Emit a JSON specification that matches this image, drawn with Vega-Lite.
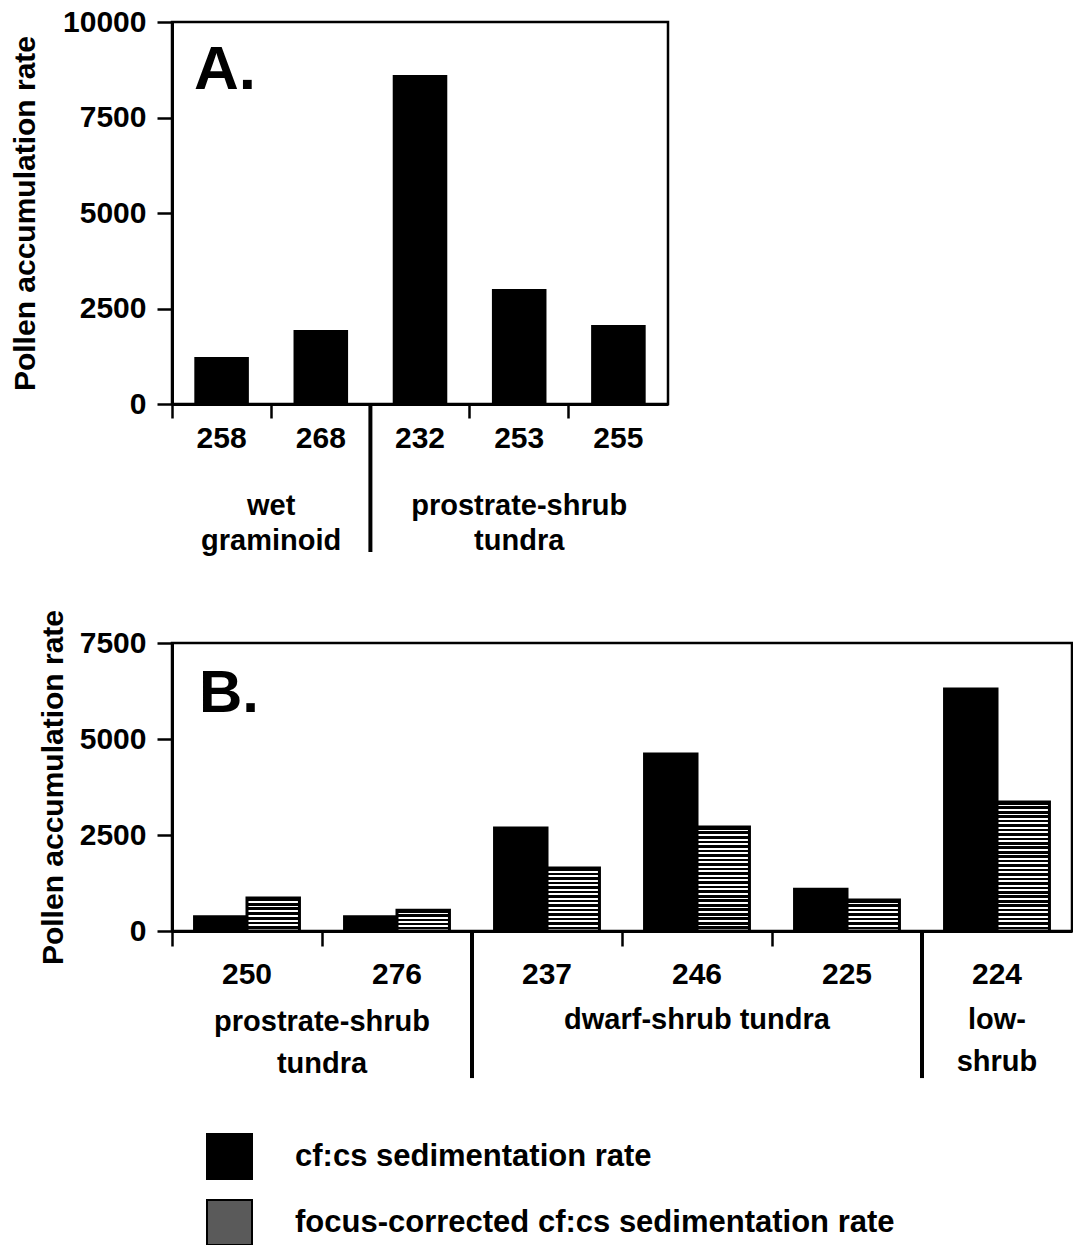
{
  "$schema": "https://vega.github.io/schema/vega-lite/v6.json",
  "background": "white",
  "padding": {"left": 9, "top": 5, "right": 0, "bottom": 0},
  "spacing": 50,
  "config": {
    "font": "Liberation Sans",
    "view": {"stroke": "#000", "strokeWidth": 2.5},
    "axis": {
      "labelFont": "Liberation Sans", "labelFontSize": 30, "labelFontWeight": "bold", "labelColor": "#000",
      "titleFont": "Liberation Sans", "titleFontSize": 30, "titleFontWeight": "bold", "titleColor": "#000",
      "domainColor": "#000", "domainWidth": 3, "tickColor": "#000", "tickWidth": 2.5, "grid": false
    }
  },
  "vconcat": [
    {
      "width": 496,
      "height": 382,
      "data": {"values": [
        {"site": "258", "vegetation": "wet graminoid", "rate": 1230},
        {"site": "268", "vegetation": "wet graminoid", "rate": 1940},
        {"site": "232", "vegetation": "prostrate-shrub tundra", "rate": 8610},
        {"site": "253", "vegetation": "prostrate-shrub tundra", "rate": 3010},
        {"site": "255", "vegetation": "prostrate-shrub tundra", "rate": 2070}
      ]},
      "layer": [
        {
          "mark": {"type": "bar", "color": "#000", "width": {"band": 0.55}},
          "encoding": {
            "x": {"field": "site", "type": "nominal", "sort": null,
              "scale": {"domain": ["258", "268", "232", "253", "255"], "paddingInner": 0, "paddingOuter": 0},
              "axis": {"title": null, "labelAngle": 0, "bandPosition": 0, "tickSize": 14, "labelPadding": 5}},
            "y": {"field": "rate", "type": "quantitative",
              "scale": {"domain": [0, 10000], "nice": false},
              "axis": {"title": "Pollen accumulation rate", "values": [0, 2500, 5000, 7500, 10000],
                "format": "d", "labelOverlap": false, "tickSize": 15,
                "labelPadding": 11, "titlePadding": 22}}
          }
        },
        {
          "data": {"values": [{}]},
          "mark": {"type": "rule", "color": "#000", "strokeWidth": 4},
          "encoding": {
            "x": {"datum": "232", "type": "nominal", "bandPosition": 0},
            "y": {"datum": 0, "type": "quantitative"},
            "y2": {"datum": -3875}
          }
        },
        {
          "data": {"values": [{}]},
          "mark": {"type": "text", "font": "Liberation Sans", "fontSize": 62, "fontWeight": "bold", "align": "left", "baseline": "alphabetic", "dx": 22, "dy": 67, "color": "#000"},
          "encoding": {
            "x": {"datum": "258", "type": "nominal", "bandPosition": 0},
            "y": {"datum": 10000, "type": "quantitative"},
            "text": {"value": "A."}
          }
        },
        {
          "data": {"values": [{}]},
          "mark": {"type": "text", "font": "Liberation Sans", "fontSize": 29, "fontWeight": "bold", "align": "center", "baseline": "alphabetic", "dy": 111, "lineHeight": 35, "color": "#000"},
          "encoding": {
            "x": {"datum": "268", "type": "nominal", "bandPosition": 0},
            "y": {"datum": 0, "type": "quantitative"},
            "text": {"value": ["wet", "graminoid"]}
          }
        },
        {
          "data": {"values": [{}]},
          "mark": {"type": "text", "font": "Liberation Sans", "fontSize": 29, "fontWeight": "bold", "align": "center", "baseline": "alphabetic", "dy": 111, "lineHeight": 35, "color": "#000"},
          "encoding": {
            "x": {"datum": "253", "type": "nominal"},
            "y": {"datum": 0, "type": "quantitative"},
            "text": {"value": ["prostrate-shrub", "tundra"]}
          }
        }
      ]
    },
    {
      "width": 900,
      "height": 288,
      "data": {"values": [
        {"site": "250", "vegetation": "prostrate-shrub tundra", "series": "cf:cs sedimentation rate", "rate": 370},
        {"site": "250", "vegetation": "prostrate-shrub tundra", "series": "focus-corrected cf:cs sedimentation rate", "rate": 860},
        {"site": "276", "vegetation": "prostrate-shrub tundra", "series": "cf:cs sedimentation rate", "rate": 370},
        {"site": "276", "vegetation": "prostrate-shrub tundra", "series": "focus-corrected cf:cs sedimentation rate", "rate": 540},
        {"site": "237", "vegetation": "dwarf-shrub tundra", "series": "cf:cs sedimentation rate", "rate": 2680},
        {"site": "237", "vegetation": "dwarf-shrub tundra", "series": "focus-corrected cf:cs sedimentation rate", "rate": 1640},
        {"site": "246", "vegetation": "dwarf-shrub tundra", "series": "cf:cs sedimentation rate", "rate": 4610},
        {"site": "246", "vegetation": "dwarf-shrub tundra", "series": "focus-corrected cf:cs sedimentation rate", "rate": 2710},
        {"site": "225", "vegetation": "dwarf-shrub tundra", "series": "cf:cs sedimentation rate", "rate": 1090},
        {"site": "225", "vegetation": "dwarf-shrub tundra", "series": "focus-corrected cf:cs sedimentation rate", "rate": 810},
        {"site": "224", "vegetation": "low-shrub", "series": "cf:cs sedimentation rate", "rate": 6300},
        {"site": "224", "vegetation": "low-shrub", "series": "focus-corrected cf:cs sedimentation rate", "rate": 3360}
      ]},
      "layer": [
        {
          "mark": {"type": "bar", "stroke": "#000", "strokeWidth": 3},
          "encoding": {
            "x": {"field": "site", "type": "nominal", "sort": null,
              "scale": {"domain": ["250", "276", "237", "246", "225", "224"], "paddingInner": 0, "paddingOuter": 0},
              "axis": {"title": null, "labelAngle": 0, "bandPosition": 0, "tickSize": 15, "labelPadding": 13}},
            "xOffset": {"field": "series", "type": "nominal",
              "scale": {"domain": ["cf:cs sedimentation rate", "focus-corrected cf:cs sedimentation rate"], "paddingInner": 0, "paddingOuter": 0.43}},
            "y": {"field": "rate", "type": "quantitative",
              "scale": {"domain": [0, 7500], "nice": false},
              "axis": {"title": "Pollen accumulation rate", "values": [0, 2500, 5000, 7500],
                "format": "d", "labelOverlap": false, "tickSize": 15,
                "labelPadding": 11, "titlePadding": 11}},
            "fill": {
              "field": "series", "type": "nominal",
              "scale": {"domain": ["cf:cs sedimentation rate", "focus-corrected cf:cs sedimentation rate"], "range": ["#000", "#5a5a5a"]},
              "legend": {"title": null, "orient": "none", "legendX": 34, "legendY": 1111, "direction": "vertical",
                "symbolType": "square", "symbolSize": 2025, "symbolStrokeColor": "#000", "symbolStrokeWidth": 2, "symbolOpacity": 1,
                "labelFont": "Liberation Sans", "labelFontSize": 31, "labelFontWeight": "bold", "labelColor": "#000",
                "labelOffset": 42, "rowPadding": 13, "labelLimit": 900, "padding": 0},
              "condition": [
                {"test": "datum.series === 'focus-corrected cf:cs sedimentation rate' && datum.rate < 700",
                 "value": {"gradient": "linear", "x1": 0, "y1": 0, "x2": 0, "y2": 1, "stops": [
                  {"offset":0,"color":"#000"},{"offset":0.12,"color":"#000"},{"offset":0.12,"color":"#fff"},{"offset":0.2,"color":"#fff"},
                  {"offset":0.2,"color":"#000"},{"offset":0.32,"color":"#000"},{"offset":0.32,"color":"#fff"},{"offset":0.4,"color":"#fff"},
                  {"offset":0.4,"color":"#000"},{"offset":0.52,"color":"#000"},{"offset":0.52,"color":"#fff"},{"offset":0.6,"color":"#fff"},
                  {"offset":0.6,"color":"#000"},{"offset":0.72,"color":"#000"},{"offset":0.72,"color":"#fff"},{"offset":0.8,"color":"#fff"},
                  {"offset":0.8,"color":"#000"},{"offset":0.92,"color":"#000"},{"offset":0.92,"color":"#fff"},{"offset":1,"color":"#fff"}
                 ]}},
                {"test": "datum.series === 'focus-corrected cf:cs sedimentation rate' && datum.rate >= 700 && datum.rate < 1200",
                 "value": {"gradient": "linear", "x1": 0, "y1": 0, "x2": 0, "y2": 1, "stops": [
                  {"offset":0,"color":"#000"},{"offset":0.0857,"color":"#000"},{"offset":0.0857,"color":"#fff"},{"offset":0.1429,"color":"#fff"},
                  {"offset":0.1429,"color":"#000"},{"offset":0.2286,"color":"#000"},{"offset":0.2286,"color":"#fff"},{"offset":0.2857,"color":"#fff"},
                  {"offset":0.2857,"color":"#000"},{"offset":0.3714,"color":"#000"},{"offset":0.3714,"color":"#fff"},{"offset":0.4286,"color":"#fff"},
                  {"offset":0.4286,"color":"#000"},{"offset":0.5143,"color":"#000"},{"offset":0.5143,"color":"#fff"},{"offset":0.5714,"color":"#fff"},
                  {"offset":0.5714,"color":"#000"},{"offset":0.6571,"color":"#000"},{"offset":0.6571,"color":"#fff"},{"offset":0.7143,"color":"#fff"},
                  {"offset":0.7143,"color":"#000"},{"offset":0.8,"color":"#000"},{"offset":0.8,"color":"#fff"},{"offset":0.8571,"color":"#fff"},
                  {"offset":0.8571,"color":"#000"},{"offset":0.9429,"color":"#000"},{"offset":0.9429,"color":"#fff"},{"offset":1,"color":"#fff"}
                 ]}},
                {"test": "datum.series === 'focus-corrected cf:cs sedimentation rate' && datum.rate >= 1200 && datum.rate < 2000",
                 "value": {"gradient": "linear", "x1": 0, "y1": 0, "x2": 0, "y2": 1, "stops": [
                  {"offset":0,"color":"#000"},{"offset":0.0429,"color":"#000"},{"offset":0.0429,"color":"#fff"},{"offset":0.0714,"color":"#fff"},
                  {"offset":0.0714,"color":"#000"},{"offset":0.1143,"color":"#000"},{"offset":0.1143,"color":"#fff"},{"offset":0.1429,"color":"#fff"},
                  {"offset":0.1429,"color":"#000"},{"offset":0.1857,"color":"#000"},{"offset":0.1857,"color":"#fff"},{"offset":0.2143,"color":"#fff"},
                  {"offset":0.2143,"color":"#000"},{"offset":0.2571,"color":"#000"},{"offset":0.2571,"color":"#fff"},{"offset":0.2857,"color":"#fff"},
                  {"offset":0.2857,"color":"#000"},{"offset":0.3286,"color":"#000"},{"offset":0.3286,"color":"#fff"},{"offset":0.3571,"color":"#fff"},
                  {"offset":0.3571,"color":"#000"},{"offset":0.4,"color":"#000"},{"offset":0.4,"color":"#fff"},{"offset":0.4286,"color":"#fff"},
                  {"offset":0.4286,"color":"#000"},{"offset":0.4714,"color":"#000"},{"offset":0.4714,"color":"#fff"},{"offset":0.5,"color":"#fff"},
                  {"offset":0.5,"color":"#000"},{"offset":0.5429,"color":"#000"},{"offset":0.5429,"color":"#fff"},{"offset":0.5714,"color":"#fff"},
                  {"offset":0.5714,"color":"#000"},{"offset":0.6143,"color":"#000"},{"offset":0.6143,"color":"#fff"},{"offset":0.6429,"color":"#fff"},
                  {"offset":0.6429,"color":"#000"},{"offset":0.6857,"color":"#000"},{"offset":0.6857,"color":"#fff"},{"offset":0.7143,"color":"#fff"},
                  {"offset":0.7143,"color":"#000"},{"offset":0.7571,"color":"#000"},{"offset":0.7571,"color":"#fff"},{"offset":0.7857,"color":"#fff"},
                  {"offset":0.7857,"color":"#000"},{"offset":0.8286,"color":"#000"},{"offset":0.8286,"color":"#fff"},{"offset":0.8571,"color":"#fff"},
                  {"offset":0.8571,"color":"#000"},{"offset":0.9,"color":"#000"},{"offset":0.9,"color":"#fff"},{"offset":0.9286,"color":"#fff"},
                  {"offset":0.9286,"color":"#000"},{"offset":0.9714,"color":"#000"},{"offset":0.9714,"color":"#fff"},{"offset":1,"color":"#fff"}
                 ]}},
                {"test": "datum.series === 'focus-corrected cf:cs sedimentation rate' && datum.rate >= 2000 && datum.rate < 3000",
                 "value": {"gradient": "linear", "x1": 0, "y1": 0, "x2": 0, "y2": 1, "stops": [
                  {"offset":0,"color":"#000"},{"offset":0.0261,"color":"#000"},{"offset":0.0261,"color":"#fff"},{"offset":0.0435,"color":"#fff"},
                  {"offset":0.0435,"color":"#000"},{"offset":0.0696,"color":"#000"},{"offset":0.0696,"color":"#fff"},{"offset":0.087,"color":"#fff"},
                  {"offset":0.087,"color":"#000"},{"offset":0.113,"color":"#000"},{"offset":0.113,"color":"#fff"},{"offset":0.1304,"color":"#fff"},
                  {"offset":0.1304,"color":"#000"},{"offset":0.1565,"color":"#000"},{"offset":0.1565,"color":"#fff"},{"offset":0.1739,"color":"#fff"},
                  {"offset":0.1739,"color":"#000"},{"offset":0.2,"color":"#000"},{"offset":0.2,"color":"#fff"},{"offset":0.2174,"color":"#fff"},
                  {"offset":0.2174,"color":"#000"},{"offset":0.2435,"color":"#000"},{"offset":0.2435,"color":"#fff"},{"offset":0.2609,"color":"#fff"},
                  {"offset":0.2609,"color":"#000"},{"offset":0.287,"color":"#000"},{"offset":0.287,"color":"#fff"},{"offset":0.3043,"color":"#fff"},
                  {"offset":0.3043,"color":"#000"},{"offset":0.3304,"color":"#000"},{"offset":0.3304,"color":"#fff"},{"offset":0.3478,"color":"#fff"},
                  {"offset":0.3478,"color":"#000"},{"offset":0.3739,"color":"#000"},{"offset":0.3739,"color":"#fff"},{"offset":0.3913,"color":"#fff"},
                  {"offset":0.3913,"color":"#000"},{"offset":0.4174,"color":"#000"},{"offset":0.4174,"color":"#fff"},{"offset":0.4348,"color":"#fff"},
                  {"offset":0.4348,"color":"#000"},{"offset":0.4609,"color":"#000"},{"offset":0.4609,"color":"#fff"},{"offset":0.4783,"color":"#fff"},
                  {"offset":0.4783,"color":"#000"},{"offset":0.5043,"color":"#000"},{"offset":0.5043,"color":"#fff"},{"offset":0.5217,"color":"#fff"},
                  {"offset":0.5217,"color":"#000"},{"offset":0.5478,"color":"#000"},{"offset":0.5478,"color":"#fff"},{"offset":0.5652,"color":"#fff"},
                  {"offset":0.5652,"color":"#000"},{"offset":0.5913,"color":"#000"},{"offset":0.5913,"color":"#fff"},{"offset":0.6087,"color":"#fff"},
                  {"offset":0.6087,"color":"#000"},{"offset":0.6348,"color":"#000"},{"offset":0.6348,"color":"#fff"},{"offset":0.6522,"color":"#fff"},
                  {"offset":0.6522,"color":"#000"},{"offset":0.6783,"color":"#000"},{"offset":0.6783,"color":"#fff"},{"offset":0.6957,"color":"#fff"},
                  {"offset":0.6957,"color":"#000"},{"offset":0.7217,"color":"#000"},{"offset":0.7217,"color":"#fff"},{"offset":0.7391,"color":"#fff"},
                  {"offset":0.7391,"color":"#000"},{"offset":0.7652,"color":"#000"},{"offset":0.7652,"color":"#fff"},{"offset":0.7826,"color":"#fff"},
                  {"offset":0.7826,"color":"#000"},{"offset":0.8087,"color":"#000"},{"offset":0.8087,"color":"#fff"},{"offset":0.8261,"color":"#fff"},
                  {"offset":0.8261,"color":"#000"},{"offset":0.8522,"color":"#000"},{"offset":0.8522,"color":"#fff"},{"offset":0.8696,"color":"#fff"},
                  {"offset":0.8696,"color":"#000"},{"offset":0.8957,"color":"#000"},{"offset":0.8957,"color":"#fff"},{"offset":0.913,"color":"#fff"},
                  {"offset":0.913,"color":"#000"},{"offset":0.9391,"color":"#000"},{"offset":0.9391,"color":"#fff"},{"offset":0.9565,"color":"#fff"},
                  {"offset":0.9565,"color":"#000"},{"offset":0.9826,"color":"#000"},{"offset":0.9826,"color":"#fff"},{"offset":1,"color":"#fff"}
                 ]}},
                {"test": "datum.series === 'focus-corrected cf:cs sedimentation rate' && datum.rate >= 3000",
                 "value": {"gradient": "linear", "x1": 0, "y1": 0, "x2": 0, "y2": 1, "stops": [
                  {"offset":0,"color":"#000"},{"offset":0.0207,"color":"#000"},{"offset":0.0207,"color":"#fff"},{"offset":0.0345,"color":"#fff"},
                  {"offset":0.0345,"color":"#000"},{"offset":0.0552,"color":"#000"},{"offset":0.0552,"color":"#fff"},{"offset":0.069,"color":"#fff"},
                  {"offset":0.069,"color":"#000"},{"offset":0.0897,"color":"#000"},{"offset":0.0897,"color":"#fff"},{"offset":0.1034,"color":"#fff"},
                  {"offset":0.1034,"color":"#000"},{"offset":0.1241,"color":"#000"},{"offset":0.1241,"color":"#fff"},{"offset":0.1379,"color":"#fff"},
                  {"offset":0.1379,"color":"#000"},{"offset":0.1586,"color":"#000"},{"offset":0.1586,"color":"#fff"},{"offset":0.1724,"color":"#fff"},
                  {"offset":0.1724,"color":"#000"},{"offset":0.1931,"color":"#000"},{"offset":0.1931,"color":"#fff"},{"offset":0.2069,"color":"#fff"},
                  {"offset":0.2069,"color":"#000"},{"offset":0.2276,"color":"#000"},{"offset":0.2276,"color":"#fff"},{"offset":0.2414,"color":"#fff"},
                  {"offset":0.2414,"color":"#000"},{"offset":0.2621,"color":"#000"},{"offset":0.2621,"color":"#fff"},{"offset":0.2759,"color":"#fff"},
                  {"offset":0.2759,"color":"#000"},{"offset":0.2966,"color":"#000"},{"offset":0.2966,"color":"#fff"},{"offset":0.3103,"color":"#fff"},
                  {"offset":0.3103,"color":"#000"},{"offset":0.331,"color":"#000"},{"offset":0.331,"color":"#fff"},{"offset":0.3448,"color":"#fff"},
                  {"offset":0.3448,"color":"#000"},{"offset":0.3655,"color":"#000"},{"offset":0.3655,"color":"#fff"},{"offset":0.3793,"color":"#fff"},
                  {"offset":0.3793,"color":"#000"},{"offset":0.4,"color":"#000"},{"offset":0.4,"color":"#fff"},{"offset":0.4138,"color":"#fff"},
                  {"offset":0.4138,"color":"#000"},{"offset":0.4345,"color":"#000"},{"offset":0.4345,"color":"#fff"},{"offset":0.4483,"color":"#fff"},
                  {"offset":0.4483,"color":"#000"},{"offset":0.469,"color":"#000"},{"offset":0.469,"color":"#fff"},{"offset":0.4828,"color":"#fff"},
                  {"offset":0.4828,"color":"#000"},{"offset":0.5034,"color":"#000"},{"offset":0.5034,"color":"#fff"},{"offset":0.5172,"color":"#fff"},
                  {"offset":0.5172,"color":"#000"},{"offset":0.5379,"color":"#000"},{"offset":0.5379,"color":"#fff"},{"offset":0.5517,"color":"#fff"},
                  {"offset":0.5517,"color":"#000"},{"offset":0.5724,"color":"#000"},{"offset":0.5724,"color":"#fff"},{"offset":0.5862,"color":"#fff"},
                  {"offset":0.5862,"color":"#000"},{"offset":0.6069,"color":"#000"},{"offset":0.6069,"color":"#fff"},{"offset":0.6207,"color":"#fff"},
                  {"offset":0.6207,"color":"#000"},{"offset":0.6414,"color":"#000"},{"offset":0.6414,"color":"#fff"},{"offset":0.6552,"color":"#fff"},
                  {"offset":0.6552,"color":"#000"},{"offset":0.6759,"color":"#000"},{"offset":0.6759,"color":"#fff"},{"offset":0.6897,"color":"#fff"},
                  {"offset":0.6897,"color":"#000"},{"offset":0.7103,"color":"#000"},{"offset":0.7103,"color":"#fff"},{"offset":0.7241,"color":"#fff"},
                  {"offset":0.7241,"color":"#000"},{"offset":0.7448,"color":"#000"},{"offset":0.7448,"color":"#fff"},{"offset":0.7586,"color":"#fff"},
                  {"offset":0.7586,"color":"#000"},{"offset":0.7793,"color":"#000"},{"offset":0.7793,"color":"#fff"},{"offset":0.7931,"color":"#fff"},
                  {"offset":0.7931,"color":"#000"},{"offset":0.8138,"color":"#000"},{"offset":0.8138,"color":"#fff"},{"offset":0.8276,"color":"#fff"},
                  {"offset":0.8276,"color":"#000"},{"offset":0.8483,"color":"#000"},{"offset":0.8483,"color":"#fff"},{"offset":0.8621,"color":"#fff"},
                  {"offset":0.8621,"color":"#000"},{"offset":0.8828,"color":"#000"},{"offset":0.8828,"color":"#fff"},{"offset":0.8966,"color":"#fff"},
                  {"offset":0.8966,"color":"#000"},{"offset":0.9172,"color":"#000"},{"offset":0.9172,"color":"#fff"},{"offset":0.931,"color":"#fff"},
                  {"offset":0.931,"color":"#000"},{"offset":0.9517,"color":"#000"},{"offset":0.9517,"color":"#fff"},{"offset":0.9655,"color":"#fff"},
                  {"offset":0.9655,"color":"#000"},{"offset":0.9862,"color":"#000"},{"offset":0.9862,"color":"#fff"},{"offset":1,"color":"#fff"}
                 ]}}
              ]
            }
          }
        },
        {
          "data": {"values": [{}]},
          "mark": {"type": "rule", "color": "#000", "strokeWidth": 4},
          "encoding": {
            "x": {"datum": "237", "type": "nominal", "bandPosition": 0},
            "y": {"datum": 0, "type": "quantitative"},
            "y2": {"datum": -3830}
          }
        },
        {
          "data": {"values": [{}]},
          "mark": {"type": "rule", "color": "#000", "strokeWidth": 4},
          "encoding": {
            "x": {"datum": "224", "type": "nominal", "bandPosition": 0},
            "y": {"datum": 0, "type": "quantitative"},
            "y2": {"datum": -3830}
          }
        },
        {
          "data": {"values": [{}]},
          "mark": {"type": "text", "font": "Liberation Sans", "fontSize": 60, "fontWeight": "bold", "align": "left", "baseline": "alphabetic", "dx": 27, "dy": 69, "color": "#000"},
          "encoding": {
            "x": {"datum": "250", "type": "nominal", "bandPosition": 0},
            "y": {"datum": 7500, "type": "quantitative"},
            "text": {"value": "B."}
          }
        },
        {
          "data": {"values": [{}]},
          "mark": {"type": "text", "font": "Liberation Sans", "fontSize": 29, "fontWeight": "bold", "align": "center", "baseline": "alphabetic", "dy": 100, "lineHeight": 42, "color": "#000"},
          "encoding": {
            "x": {"datum": "276", "type": "nominal", "bandPosition": 0},
            "y": {"datum": 0, "type": "quantitative"},
            "text": {"value": ["prostrate-shrub", "tundra"]}
          }
        },
        {
          "data": {"values": [{}]},
          "mark": {"type": "text", "font": "Liberation Sans", "fontSize": 29, "fontWeight": "bold", "align": "center", "baseline": "alphabetic", "dy": 98, "lineHeight": 42, "color": "#000"},
          "encoding": {
            "x": {"datum": "246", "type": "nominal"},
            "y": {"datum": 0, "type": "quantitative"},
            "text": {"value": "dwarf-shrub tundra"}
          }
        },
        {
          "data": {"values": [{}]},
          "mark": {"type": "text", "font": "Liberation Sans", "fontSize": 29, "fontWeight": "bold", "align": "center", "baseline": "alphabetic", "dy": 98, "lineHeight": 42, "color": "#000"},
          "encoding": {
            "x": {"datum": "224", "type": "nominal"},
            "y": {"datum": 0, "type": "quantitative"},
            "text": {"value": ["low-", "shrub"]}
          }
        }
      ]
    }
  ]
}
